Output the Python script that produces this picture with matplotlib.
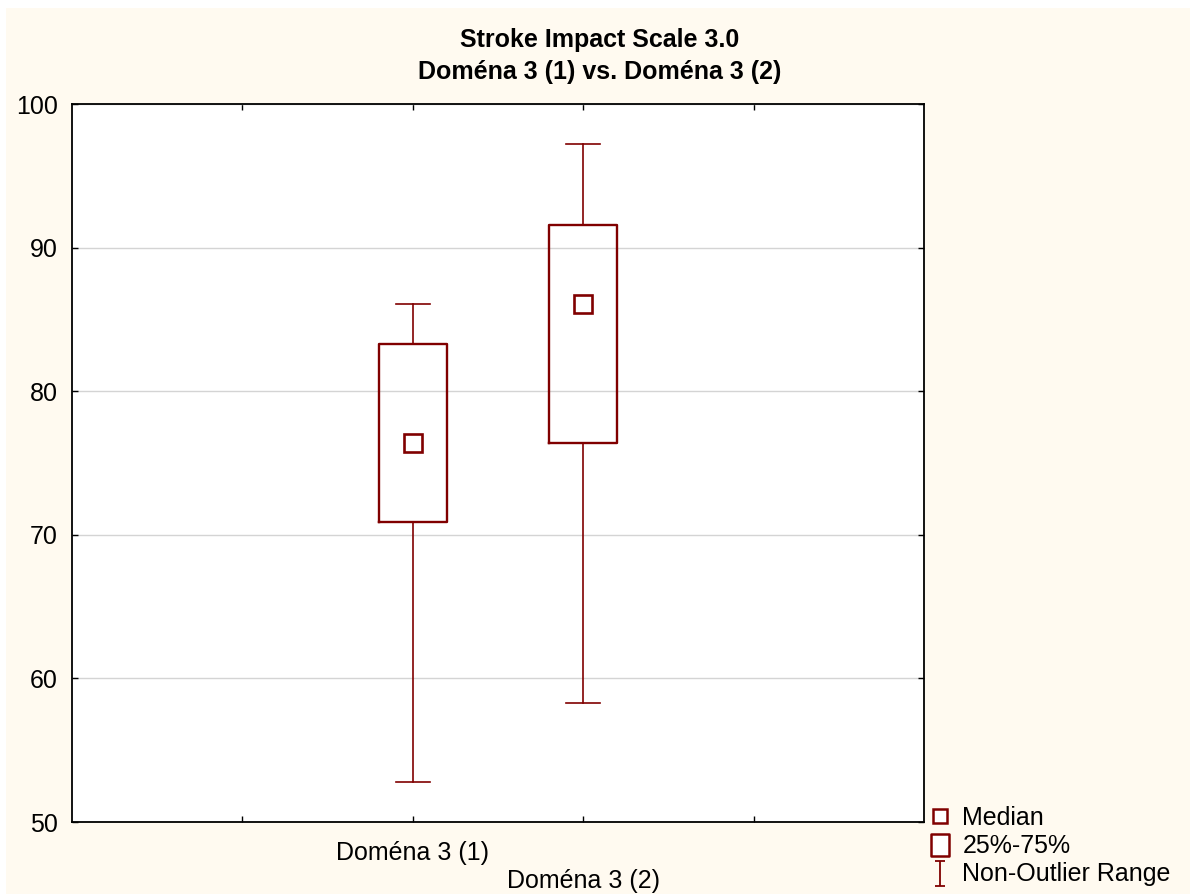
import matplotlib
matplotlib.use("Agg")
import matplotlib.pyplot as plt
from matplotlib.patches import Rectangle
from matplotlib.lines import Line2D
from matplotlib.path import Path

categories = ["Doména 3 (1)", "Doména 3 (2)"]
medians = [76.4, 86.1]
q1 = [70.9, 76.4]
q3 = [83.3, 91.6]
whislo = [52.8, 58.3]
whishi = [86.1, 97.2]
yticks = [50, 60, 70, 80, 90, 100]

RED = "#800000"
CREAM = "#FFFAF0"

plt.rcParams["font.family"] = ["Liberation Sans", "DejaVu Sans"]
plt.rcParams["font.size"] = 18

fig = plt.figure(figsize=(11.9, 8.94), dpi=100, facecolor="white")
fig.patches.append(Rectangle((6 / 1190, 0), 1, 1 - 8 / 894, transform=fig.transFigure,
                             facecolor=CREAM, edgecolor="none", zorder=-10))

ax = fig.add_axes([72 / 1190, 1 - 822 / 894, 852 / 1190, 718 / 894])
ax.set_facecolor("white")

positions = [2, 3]
stats = []
for i in range(len(categories)):
    stats.append(dict(med=medians[i], q1=q1[i], q3=q3[i],
                      whislo=whislo[i], whishi=whishi[i], fliers=[]))

ax.bxp(stats, positions=positions, widths=0.4, capwidths=0.2, showfliers=False,
       boxprops=dict(color=RED, linewidth=1.7),
       whiskerprops=dict(color=RED, linewidth=1.2),
       capprops=dict(color=RED, linewidth=1.2),
       medianprops=dict(linewidth=0, color="none"),
       manage_ticks=False, zorder=3)
ax.plot(positions, medians, ls="none", marker="s", ms=13, mfc="white",
        mec=RED, mew=1.9, zorder=4)

ax.set_xlim(0, 5)
ax.set_ylim(50, 100)
ax.set_yticks(yticks)
ax.set_xticks([1, 2, 3, 4])
ax.set_xticklabels(["", categories[0], "\n" + categories[1], ""])
ax.yaxis.grid(True, color="#d4d4d4", linewidth=1.0, zorder=0)
ax.set_axisbelow(True)
ax.tick_params(direction="in", length=4, width=1, top=True, right=True,
               labelsize=18, colors="black")
ax.tick_params(axis="x", pad=14)
ax.tick_params(axis="y", pad=10)
for sp in ax.spines.values():
    sp.set_linewidth(1.3)
    sp.set_color("black")

fig.text(600 / 1190, 1 - 47 / 894, "Stroke Impact Scale 3.0", ha="center",
         va="baseline", fontsize=18, fontweight="bold")
fig.text(600 / 1190, 1 - 79 / 894, "Doména 3 (1) vs. Doména 3 (2)", ha="center",
         va="baseline", fontsize=18, fontweight="bold")

# legend
ibeam = Path([(-0.4, 1), (0.4, 1), (0, 1), (0, -1), (-0.4, -1), (0.4, -1)],
             [Path.MOVETO, Path.LINETO, Path.MOVETO, Path.LINETO, Path.MOVETO, Path.LINETO])
tallbox = Path([(-0.8, -1), (0.8, -1), (0.8, 1), (-0.8, 1), (-0.8, -1)],
               [Path.MOVETO, Path.LINETO, Path.LINETO, Path.LINETO, Path.CLOSEPOLY])
handles = [
    Line2D([], [], ls="none", marker="s", ms=10, mfc="white", mec=RED, mew=1.8),
    Line2D([], [], ls="none", marker=tallbox, ms=16, mfc="white", mec=RED, mew=1.8),
    Line2D([], [], ls="none", marker=ibeam, ms=18, mfc="none", mec=RED, mew=1.3),
]
labels = ["Median", "25%-75%", "Non-Outlier Range"]
fig.legend(handles, labels, loc="lower left", bbox_to_anchor=(925 / 1190, 5 / 894),
           frameon=False, fontsize=18, handlelength=1.0, handletextpad=0.4,
           labelspacing=0.17, borderpad=0.1, borderaxespad=0)

fig.savefig("out.png", dpi=100, facecolor=fig.get_facecolor())
